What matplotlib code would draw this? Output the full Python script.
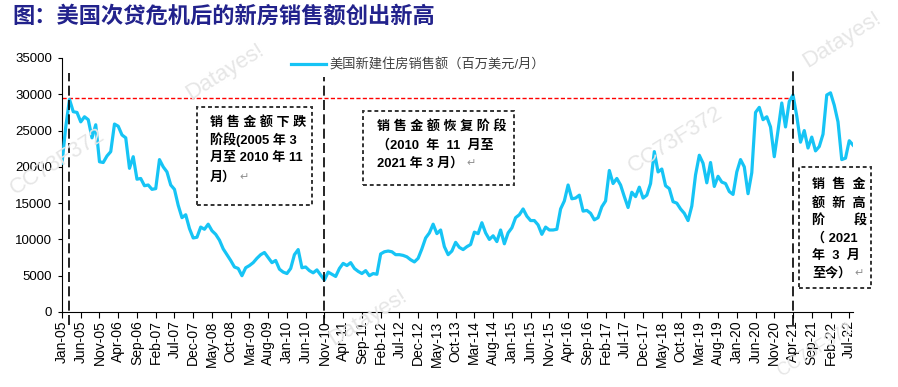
import matplotlib.pyplot as plt
from matplotlib.patches import Rectangle
import pandas as pd

# 美国新建住房销售额（百万美元/月），2005-01 至 2022-08
months = pd.date_range("2005-01-01", "2022-08-01", freq="MS")
sales = [
    20500, 25500, 29300, 27600, 27500, 26200, 26900, 26500, 24000, 25800, 20700, 20600,  # 2005
    21500, 22100, 25900, 25600, 24400, 24000, 19800, 21400, 18300, 18400, 17400, 17500,  # 2006
    16900, 17000, 21000, 20000, 19300, 17500, 16900, 14700, 13000, 13400, 11500, 10200,  # 2007
    10300, 11700, 11400, 12100, 11200, 10700, 9900, 8700, 7900, 7100, 6200, 6000,  # 2008
    5000, 6100, 6400, 6800, 7400, 7900, 8200, 7500, 6800, 7100, 5900, 5500,  # 2009
    5300, 6000, 7900, 8600, 6100, 6200, 5700, 5400, 5800, 5100, 4400, 5500,  # 2010
    5200, 4900, 6000, 6700, 6400, 6800, 6000, 5600, 5300, 5700, 5000, 5300,  # 2011
    5200, 8000, 8300, 8400, 8300, 7900, 7900, 7800, 7600, 7200, 6900, 7400,  # 2012
    8700, 10200, 10900, 12100, 10800, 11300, 9000, 7900, 8400, 9600, 8900, 8600,  # 2013
    9000, 9300, 11000, 10800, 12300, 10900, 10000, 10500, 9700, 11300, 9400, 10900,  # 2014
    11600, 13000, 13400, 14200, 13200, 12600, 12600, 12000, 10700, 11700, 11300, 11300,  # 2015
    11400, 14200, 15300, 17500, 15600, 15700, 16100, 13900, 14000, 13600, 12700, 13000,  # 2016
    14500, 15300, 19500, 17700, 18400, 17500, 15900, 14400, 16500, 15900, 17200, 15700,  # 2017
    16100, 17700, 22100, 19300, 19700, 17400, 17000, 15200, 15000, 14200, 13600, 12600,  # 2018
    14600, 18900, 21600, 20500, 17800, 20600, 17300, 18700, 17900, 17700, 16600, 16200,  # 2019
    19300, 21000, 20000, 16300, 19200, 27500, 28200, 26500, 26900, 25500, 21400, 25000,  # 2020
    28800, 25500, 29000, 29900, 27000, 23400, 25000, 22600, 24100, 22200, 22800, 24500,  # 2021
    29900, 30200, 28500, 26200, 21000, 21200, 23600, 23000,  # 2022
]
tick_labels = [m.strftime("%b-%y") for m in months]

prev_high = 29500                                  # 次贷危机前高点
phase_starts = ["2005-03", "2010-11", "2021-04"]   # 三个阶段分界
phase_tops = [33000, 32400, 33400]

W, H = 898, 387
cjk = ["Liberation Sans", "Noto Sans CJK SC", "DejaVu Sans"]
plt.rcParams["font.family"] = cjk

fig = plt.figure(figsize=(W / 100, H / 100), dpi=100)
ax = fig.add_axes([62 / W, 1 - 312 / H, 791 / W, 254 / H])

x = list(range(len(sales)))
ax.plot(x, sales, color="#16c4f5", lw=2.3, solid_joinstyle="round",
        label="美国新建住房销售额（百万美元/月）", zorder=3)

# 前高水平线
idx = [months.get_loc(pd.Timestamp(p)) for p in phase_starts]
ax.hlines(prev_high, 0, idx[2] - 0.5, colors="red", lw=1.0,
          linestyles=(0, (3, 1.6)), zorder=2)
# 阶段分界竖线
for i, top in zip(idx, phase_tops):
    ax.vlines(i, -1800, top, colors="black", lw=1.2,
              linestyles=(0, (6, 2.6)), clip_on=False, zorder=4)

ax.set_xlim(0, len(sales) - 1)
ax.set_ylim(0, 35000)
ax.set_yticks(range(0, 35001, 5000))
ax.set_xticks(x[::5])
ax.set_xticklabels(tick_labels[::5], rotation=90, fontsize=10)
ax.tick_params(axis="y", labelsize=9.5, length=3, pad=4)
ax.tick_params(axis="x", length=4, pad=2)
for s in ["top", "right"]:
    ax.spines[s].set_visible(False)

ax.legend(loc="center left", bbox_to_anchor=(0.29, 0.972), frameon=False,
          handlelength=2.6, handletextpad=0.3, borderpad=0, borderaxespad=0,
          prop={"family": cjk, "size": 9.5}, labelcolor="#404040")

# 标题
fig.text(12 / W, 1 - 16 / H, "图：美国次贷危机后的新房销售额创出新高",
         fontsize=16, weight="bold", color="#22228c", va="center",
         family=["Noto Sans CJK SC", "DejaVu Sans"])

# 水印
marks = [("Datayes!", 225, 72, 16), ("CC73F372", 58, 162, 16), ("Datayes!", 368, 318, 16),
         ("CC73F372", 676, 140, 16), ("Datayes!", 842, 40, 16), ("CC73F372", 815, 350, 13)]
for s, px, py, fs in marks:
    fig.text(px / W, 1 - py / H, s, fontsize=fs, color="#e6e6e6", rotation=32,
             ha="center", va="center", zorder=0, family="Liberation Sans")


def box(x0, y0, x1, y1):
    fig.add_artist(Rectangle((x0 / W, 1 - y1 / H), (x1 - x0) / W, (y1 - y0) / H,
                             transform=fig.transFigure, facecolor="white",
                             edgecolor="#333333", lw=1.4, ls=(0, (2, 1.5)), zorder=5))


def lines(x0, ys, rows, size=9.4):
    for yy, row in zip(ys, rows):
        t = fig.text(x0 / W, 1 - yy / H, row, fontsize=size, weight="bold",
                     va="center", ha="left", zorder=6)
        if "↵" in row:
            t.set_text(row.replace("↵", ""))
            fig.text((x0 + t.get_window_extent(fig.canvas.get_renderer()).width + 3) / W,
                     1 - yy / H, "↵", fontsize=8, color="#909090", va="center", zorder=6,
                     family="DejaVu Sans")


box(197, 107, 312, 205)
lines(210, [122, 140, 158, 177],
      ["销 售 金 额 下 跌", "阶段(2005 年 3", "月至 2010 年 11", "月）↵"])

box(363, 111, 514, 185)
lines(377, [127, 145, 163],
      ["销 售 金 额 恢 复 阶 段", "（2010  年  11  月至", "2021 年 3 月）↵"])

box(799, 167, 871, 288)
lines(812, [185, 203, 220, 238, 256, 273],
      ["销  售  金", "额  新  高", "阶        段", "（ 2021", "年  3  月", "至今）↵"])

fig.savefig("out.png", dpi=100)
